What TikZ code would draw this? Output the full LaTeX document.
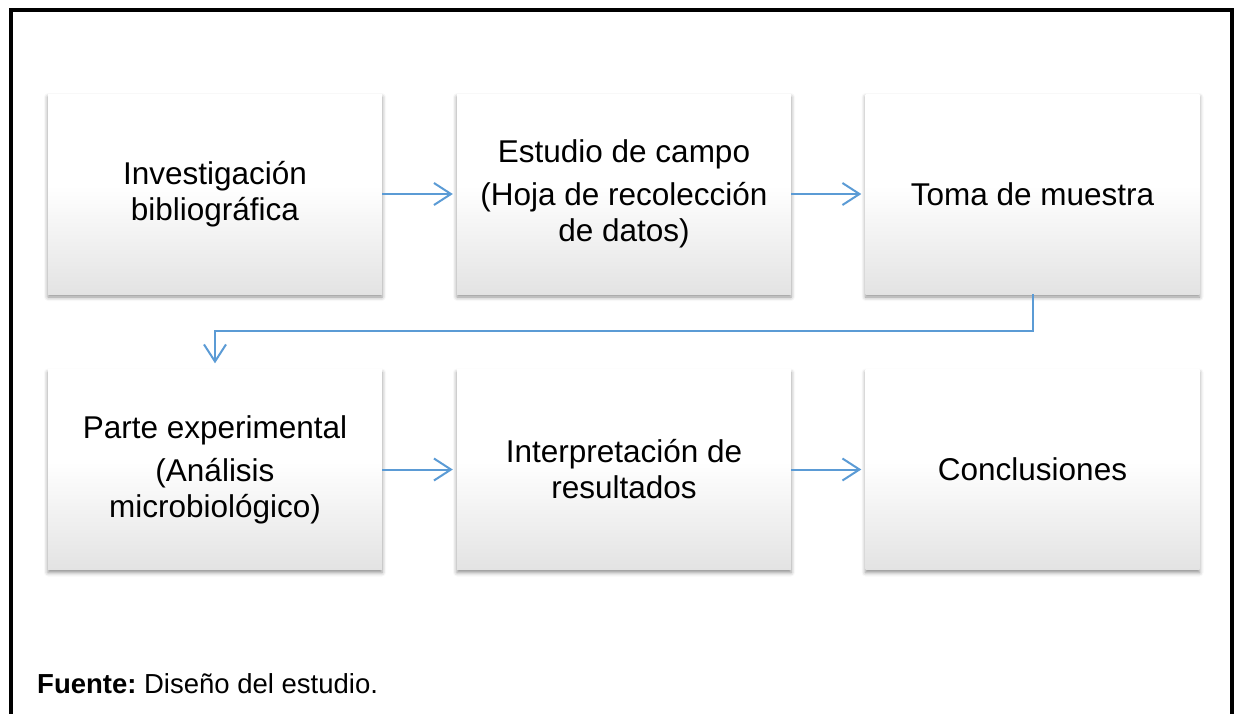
\documentclass[tikz,border=0pt]{standalone}
\usepackage{fontspec}
\setmainfont{Liberation Sans}
\usetikzlibrary{arrows.meta,shadows.blur}

\definecolor{pfeilblau}{HTML}{5B9BD5}
\definecolor{kastengrau}{HTML}{E3E3E3}
% oben weiss, untere Haelfte nach grau
\pgfdeclareverticalshading{kastenverlauf}{100bp}{color(0bp)=(kastengrau);
	color(25bp)=(kastengrau); color(52bp)=(white); color(100bp)=(white)}

\tikzset{
	kasten/.style={minimum width=334pt, minimum height=200pt, align=center,
		shading=kastenverlauf,
		blur shadow={shadow xshift=0pt, shadow yshift=-3pt, shadow blur radius=4pt,
			shadow opacity=45},
		font=\fontsize{31.5}{36}\selectfont, inner sep=0pt},
	pfeil/.style={draw=pfeilblau, line width=2pt,
		-{Straight Barb[length=17pt, width=22pt, line width=2pt]}}
}

\begin{document}
\begin{tikzpicture}[x=1pt, y=-1pt]
	\useasboundingbox (0,0) rectangle (1238,713);
	% Rahmen
	\draw[line width=3.5pt] (11,720) -- (11,10) -- (1232,10) -- (1232,720);

	% obere Reihe
	\node[kasten] (biblio) at (215,194) {Investigación\\bibliográfica};
	\node[kasten] (campo) at (624,194) {Estudio de campo\\[7pt](Hoja de recolección\\de datos)};
	\node[kasten] (muestra) at (1032.5,194) {Toma de muestra};

	% untere Reihe
	\node[kasten] (experimental) at (215,469.5) {Parte experimental\\[7pt](Análisis\\microbiológico)};
	\node[kasten] (interpretacion) at (624,469.5) {Interpretación de\\resultados};
	\node[kasten] (conclusiones) at (1032.5,469.5) {Conclusiones};

	% Pfeile
	\draw[pfeil, shorten >=4pt] (biblio) -- (campo);
	\draw[pfeil, shorten >=4pt] (campo) -- (muestra);
	\draw[pfeil, shorten >=6pt] (muestra.south) -- ++(0,37) -| (experimental.north);
	\draw[pfeil, shorten >=4pt] (experimental) -- (interpretacion);
	\draw[pfeil, shorten >=4pt] (interpretacion) -- (conclusiones);

	% Quelle
	\node[anchor=west, font=\fontsize{27.5}{32}\selectfont, inner sep=0pt] (fuente) at (37,684)
		{\frenchspacing\textbf{Fuente:} Diseño del estudio.};
\end{tikzpicture}
\end{document}
